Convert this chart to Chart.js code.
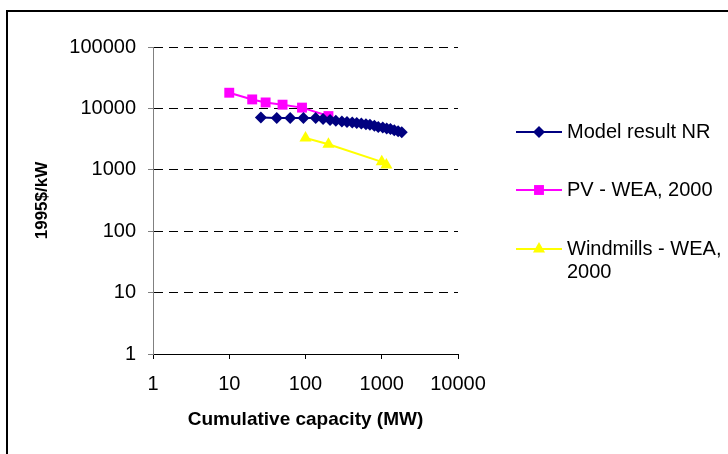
<!DOCTYPE html>
<html>
<head>
<meta charset="utf-8">
<script src="https://cdn.jsdelivr.net/npm/chart.js@4/dist/chart.umd.min.js"></script>
<style>
  html, body { margin: 0; padding: 0; background: #fff; overflow: hidden; }
  #frame { position: absolute; left: 6px; top: 10px; width: 800px; height: 500px; border: 2px solid #000; }
  #wrap { position: absolute; left: 0; top: 0; width: 728px; height: 454px; }
</style>
</head>
<body>
<div id="frame"></div>
<div id="wrap"><canvas id="learningChart" width="728" height="454"></canvas></div>
<script>
// cumulative capacity (MW) and cost (1995$/kW)
const nrCapacity = [26, 42, 63, 94, 136, 170, 210, 250, 300, 350, 410, 470, 540, 620, 700, 800, 900, 1030, 1160, 1300, 1460, 1640, 1830];
const nrCost = [7100, 7000, 7000, 7000, 7000, 6700, 6500, 6300, 6100, 6000, 5900, 5800, 5700, 5500, 5400, 5200, 5000, 4900, 4700, 4600, 4400, 4250, 4100];

const pvCapacity = [10, 20, 30, 50, 90, 200];
const pvCost = [18000, 14000, 12500, 11500, 10300, 7500];

const windCapacity = [100, 200, 1000, 1150];
const windCost = [3300, 2600, 1350, 1200];

const xTicks = [1, 10, 100, 1000, 10000];
const yTicks = [1, 10, 100, 1000, 10000, 100000];

const legendNames = [['Model result NR'], ['PV - WEA, 2000'], ['Windmills - WEA,', '2000']];

const FONT = '"Liberation Sans", Arial, sans-serif';

const toPoints = (xs, ys) => xs.map((x, i) => ({ x: x, y: ys[i] }));

function drawMarker(ctx, style, x, y, r, color) {
    ctx.fillStyle = color;
    ctx.beginPath();
    if (style === 'rectRot') {
        ctx.moveTo(x - r, y);
        ctx.lineTo(x, y - r);
        ctx.lineTo(x + r, y);
        ctx.lineTo(x, y + r);
    } else if (style === 'rect') {
        const s = r * Math.SQRT1_2;
        ctx.rect(x - s, y - s, 2 * s, 2 * s);
    } else {
        ctx.moveTo(x, y - r);
        ctx.lineTo(x + r * Math.sin(Math.PI * 2 / 3), y + r / 2);
        ctx.lineTo(x - r * Math.sin(Math.PI * 2 / 3), y + r / 2);
    }
    ctx.closePath();
    ctx.fill();
}

// legend on the right, with a wrapped last label
const sideLegend = {
    id: 'sideLegend',
    afterDraw(chart) {
        const ctx = chart.ctx;
        const rows = [132, 190, 249];
        ctx.save();
        ctx.font = '20px ' + FONT;
        ctx.textBaseline = 'middle';
        ctx.textAlign = 'left';
        chart.data.datasets.forEach((ds, i) => {
            const y = rows[i];
            ctx.strokeStyle = ds.borderColor;
            ctx.lineWidth = ds.borderWidth;
            ctx.beginPath();
            ctx.moveTo(516, y);
            ctx.lineTo(562, y);
            ctx.stroke();
            drawMarker(ctx, ds.pointStyle, 539, y, ds.pointRadius, ds.pointBackgroundColor);
            ctx.fillStyle = '#000';
            legendNames[i].forEach((line, j) => ctx.fillText(line, 567, y + j * 23.5));
        });
        ctx.restore();
    }
};

new Chart(document.getElementById('learningChart'), {
    type: 'line',
    data: {
        datasets: [{
            label: 'Model result NR',
            data: toPoints(nrCapacity, nrCost),
            borderColor: '#000080',
            backgroundColor: '#000080',
            pointBackgroundColor: '#000080',
            borderWidth: 2,
            pointStyle: 'rectRot',
            pointRadius: 6,
            pointBorderWidth: 0,
            tension: 0
        }, {
            label: 'PV - WEA, 2000',
            data: toPoints(pvCapacity, pvCost),
            borderColor: '#ff00ff',
            backgroundColor: '#ff00ff',
            pointBackgroundColor: '#ff00ff',
            borderWidth: 2,
            pointStyle: 'rect',
            pointRadius: 7,
            pointBorderWidth: 0,
            tension: 0
        }, {
            label: 'Windmills - WEA, 2000',
            data: toPoints(windCapacity, windCost),
            borderColor: '#ffff00',
            backgroundColor: '#ffff00',
            pointBackgroundColor: '#ffff00',
            borderWidth: 2,
            pointStyle: 'triangle',
            pointRadius: 7,
            pointBorderWidth: 0,
            tension: 0
        }]
    },
    options: {
        responsive: false,
        animation: false,
        layout: { padding: { left: 6, top: 47, right: 270, bottom: 0 } },
        plugins: {
            legend: { display: false },
            tooltip: { enabled: false }
        },
        scales: {
            x: {
                type: 'logarithmic',
                min: 1,
                max: 10000,
                afterBuildTicks(scale) { scale.ticks = xTicks.map(v => ({ value: v })); },
                afterFit(scale) { scale.height = 100; },
                ticks: {
                    callback: v => String(v),
                    color: '#000',
                    padding: 13,
                    maxRotation: 0,
                    autoSkip: false,
                    font: { family: FONT, size: 20 }
                },
                grid: { drawOnChartArea: false, drawTicks: true, tickLength: 5, tickColor: '#000' },
                border: { color: '#000', width: 1 },
                title: {
                    display: true,
                    text: 'Cumulative capacity (MW)',
                    color: '#000',
                    font: { family: FONT, size: 19, weight: 'bold' },
                    padding: { top: 0, bottom: 23 }
                }
            },
            y: {
                type: 'logarithmic',
                min: 1,
                max: 100000,
                afterBuildTicks(scale) { scale.ticks = yTicks.map(v => ({ value: v })); },
                afterFit(scale) { scale.width = 147; },
                ticks: {
                    callback: v => String(v),
                    color: '#000',
                    padding: 12,
                    autoSkip: false,
                    font: { family: FONT, size: 20 }
                },
                grid: { color: '#000', lineWidth: 1, tickLength: 5, tickColor: '#808080', drawTicks: true },
                border: { color: '#808080', width: 1, dash: [9, 6] },
                title: {
                    display: true,
                    text: '1995$/kW',
                    color: '#000',
                    font: { family: FONT, size: 17, weight: 'bold' },
                    padding: { top: 26, bottom: 0 }
                }
            }
        }
    },
    plugins: [sideLegend]
});
</script>
</body>
</html>
